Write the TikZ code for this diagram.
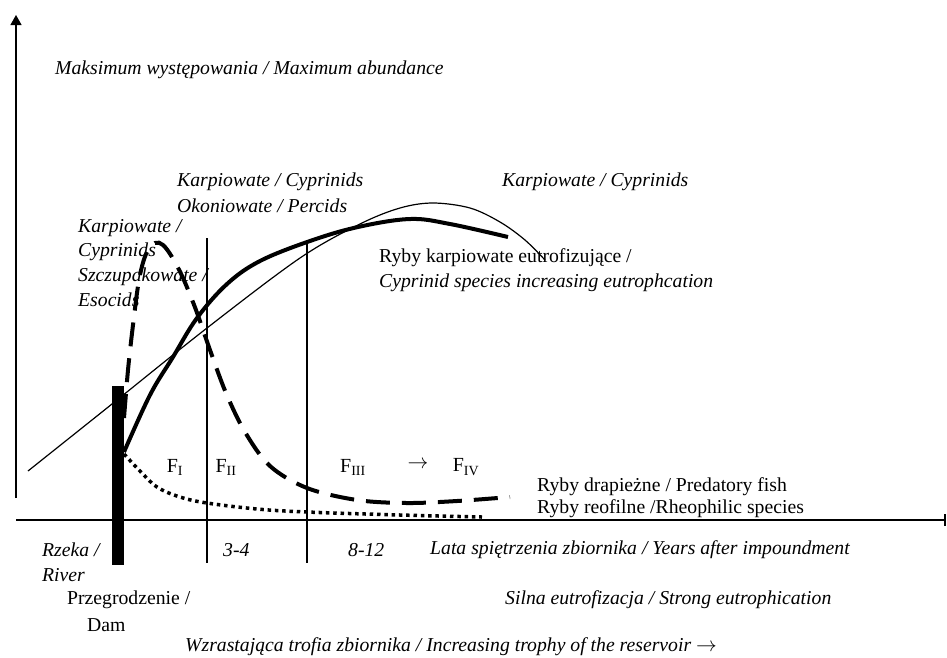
\documentclass[tikz,border=0pt]{standalone}
\usepackage{fontspec}
\setmainfont{Liberation Serif}
\usetikzlibrary{arrows.meta}
\begin{document}
\begin{tikzpicture}[x=1pt,y=-1pt,
  lbl/.style={anchor=west,inner sep=0pt,font=\fontsize{19.7}{23}\selectfont},
  ilbl/.style={anchor=west,inner sep=0pt,font=\fontsize{19.7}{23}\selectfont\itshape},
  flbl/.style={anchor=center,inner sep=0pt,font=\fontsize{20}{23}\selectfont},
  axisline/.style={line width=1.3pt},
  divline/.style={line width=1.1pt},
  thinline/.style={line width=1.2pt},
  thickline/.style={line width=4pt},
  dashline/.style={line width=4pt,dash pattern=on 24pt off 12pt},
  dotline/.style={line width=3.5pt,dash pattern=on 3.5pt off 3.8pt}]
\useasboundingbox (0,0) rectangle (947,657);
% axes
\coordinate (yb) at (16,498);
\coordinate (yt) at (16,15);
\coordinate (xl) at (16,520);
\coordinate (xr) at (945,520);
\draw[axisline,-{Triangle[width=11pt,length=10pt]}] (yb) -- (yt);
\draw[axisline] (xl) -- (xr);
\draw[axisline] (945,514) -- (945,526);
% dividers
\coordinate (v1t) at (207,238); \coordinate (v1b) at (207,563);
\coordinate (v2t) at (307,242); \coordinate (v2b) at (307,563);
\draw[divline] (v1t) -- (v1b);
\draw[divline] (v2t) -- (v2b);
% dam
\fill (112,386) rectangle (124,565);
% thin line
\draw[thinline] plot[smooth,tension=0.55] coordinates {(28,471) (112,404) (207,328) (300,258) (360,224) (400,208) (433,203) (470,208) (500,222) (525,240) (545,260)};
% thick solid
\draw[thickline] plot[smooth,tension=0.6] coordinates {(124,452) (150,395) (173,357) (197,318) (227,284) (260,261) (310,241) (358,227) (410,219) (450,224) (508,237)};
% dashed
\draw[dashline] plot[smooth,tension=0.55] coordinates {(124,418) (128,370) (133,325) (139,280) (146,254) (155,243) (163,245) (172,257) (183,278) (196,310) (210,350) (226,393) (245,432) (270,466) (307,488) (357,500) (407,503) (457,501) (510,497)};
% dotted
\draw[dotline] plot[smooth,tension=0.6] coordinates {(124,454) (140,471) (157,487) (180,497) (207,503) (257,509) (307,512) (400,515) (482,517)};
% texts
\node[ilbl] (t1) at (55,70) {Maksimum występowania / Maximum abundance};
\node[ilbl] (t2) at (177,182) {Karpiowate / Cyprinids};
\node[ilbl] (t3) at (177,206) {Okoniowate / Percids};
\node[ilbl] (t4) at (78,228) {Karpiowate /};
\node[ilbl] (t5) at (78,252) {Cyprinids};
\node[ilbl] (t6) at (78,277) {Szczupakowate /};
\node[ilbl] (t7) at (78,300) {Esocids};
\node[ilbl] (t8) at (502,182) {Karpiowate / Cyprinids};
\node[lbl] (t9) at (379,258) {Ryby karpiowate eutrofizujące /};
\node[ilbl] (t10) at (379,283) {Cyprinid species increasing eutrophcation};
\node[flbl] (f1) at (175,467) {F\textsubscript{I}};
\node[flbl] (f2) at (226,467) {F\textsubscript{II}};
\node[flbl] (f3) at (353,467) {F\textsubscript{III}};
\node[flbl] (fa) at (418,465) {$\rightarrow$};
\node[flbl] (f4) at (466,467) {F\textsubscript{IV}};
\node[lbl] (t11) at (537,487) {Ryby drapieżne / Predatory fish};
\node[lbl] (t12) at (537,509) {Ryby reofilne /Rheophilic species};
\node[ilbl] (t13) at (42,550) {Rzeka /};
\node[ilbl] (t14) at (42,575) {River};
\node[ilbl] (t15) at (223,550) {3-4};
\node[ilbl] (t16) at (348,550) {8-12};
\node[ilbl] (t17) at (430,550) {Lata spiętrzenia zbiornika / Years after impoundment};
\node[lbl] (t18) at (67,600) {Przegrodzenie /};
\node[lbl] (t19) at (87,625) {Dam};
\node[ilbl] (t20) at (505,600) {Silna eutrofizacja / Strong eutrophication};
\node[ilbl] (t21) at (185,647) {Wzrastająca trofia zbiornika / Increasing trophy of the reservoir $\rightarrow$};
\end{tikzpicture}
\end{document}
